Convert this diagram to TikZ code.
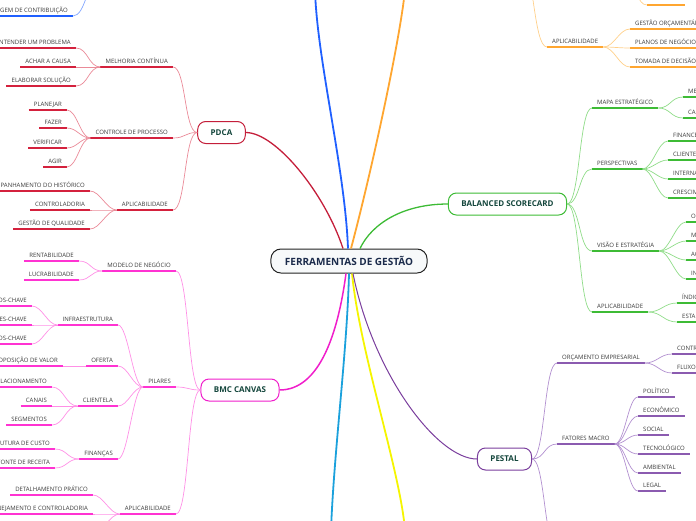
\documentclass[tikz,border=0pt]{standalone}
\usepackage{fontspec}
\setmainfont{Open Sans}
\definecolor{txt}{HTML}{3A3A3A}
\definecolor{nodetxt}{HTML}{14463C}
\definecolor{ctrT}{HTML}{1B2B4B}
\definecolor{ctrB}{HTML}{222222}
\definecolor{ctrF}{HTML}{F7F9FA}
\definecolor{pdcaB}{HTML}{C41E3A}
\definecolor{pdcaU}{HTML}{D4213D}
\definecolor{pdcaL}{HTML}{EA8A98}
\definecolor{bmcB}{HTML}{F01ECB}
\definecolor{bmcU}{HTML}{FF33D2}
\definecolor{bmcL}{HTML}{FF90E6}
\definecolor{bscB}{HTML}{3DBB35}
\definecolor{bscL}{HTML}{8FDC88}
\definecolor{pesB}{HTML}{7A3E9D}
\definecolor{pesU}{HTML}{8B5BB0}
\definecolor{pesL}{HTML}{B290D0}
\definecolor{orgU}{HTML}{FFA630}
\definecolor{orgL}{HTML}{FFD08A}
\definecolor{bluT}{HTML}{2060FF}
\definecolor{cyaT}{HTML}{1BA1DC}
\definecolor{yelT}{HTML}{F5F500}
\newcommand{\topicfont}{\fontsize{6}{7}\selectfont}
\begin{document}
\begin{tikzpicture}[x=1pt,y=-1pt,
    topic/.style={font=\topicfont, text=txt, inner xsep=5pt, inner ysep=2.4pt,
      text height=4.4pt, text depth=1.3pt,
      append after command={(\tikzlastnode.south west) edge[draw=#1, line width=1.8pt] (\tikzlastnode.south east)}},
    topicL/.style={topic=#1, anchor=south east},
    topicR/.style={topic=#1, anchor=south west},
    main/.style={draw=#1, line width=1pt, rounded corners=8pt, fill=white, text=nodetxt,
      font=\bfseries\fontsize{8}{9}\selectfont, inner xsep=13pt, minimum height=22pt},
    link/.style={draw=#1, line width=0.7pt},
    trunk/.style={draw=#1, line width=1.3pt},
    ul/.style={draw=#1, line width=1.8pt}]
    \useasboundingbox (0,0) rectangle (696,520);
    \clip (0,0) rectangle (696,520);

    % centre and main topics
    \node[draw=ctrB, fill=ctrF, line width=1pt, rounded corners=10pt, text=ctrT,
      font=\bfseries\fontsize{10}{12}\selectfont, inner xsep=14pt, minimum height=24pt]
      (fg) at (349,261) {FERRAMENTAS DE GESTÃO};
    \node[main=pdcaB] (pdca) at (221.5,132.5) {PDCA};
    \node[main=bmcB] (bmc) at (240,390) {BMC CANVAS};
    \node[main=bscB] (bsc) at (507.5,204) {BALANCED SCORECARD};
    \node[main=pesB] (pes) at (504.5,459) {PESTAL};

    % topics lying outside the page
    \coordinate (blum) at (315,-10);
    \coordinate (orgt) at (405,-10);
    \coordinate (cyat) at (331,530);
    \coordinate (yelt) at (405,530);
    \coordinate (orgm) at (520,-40);
    \coordinate (blup) at (100,-22);

    % trunks
    \draw[trunk=bluT, line width=1.8pt] ([xshift=-1pt]fg.north) .. controls +(-3,-80) and +(2,70) .. (blum);
    \draw[trunk=orgU, line width=1.8pt] ([xshift=2pt]fg.north) .. controls +(21,-79) and +(-5,50) .. (orgt);
    \draw[trunk=pdcaB] (pdca.east) .. controls +(30,0) and +(-18,-55) .. ([xshift=-6pt]fg.north);
    \draw[trunk=bscB] ([xshift=11pt]fg.north) .. controls +(12,-25) and +(-45,0) .. (bsc.west);
    \draw[trunk=bmcB, line width=1.5pt] ([xshift=-3pt]fg.south) .. controls +(-8,60) and +(40,0) .. (bmc.east);
    \draw[trunk=cyaT, line width=1.8pt] (fg.south) .. controls +(-2,80) and +(3,-80) .. (cyat);
    \draw[trunk=yelT, line width=1.8pt] ([xshift=3pt]fg.south) .. controls +(8,80) and +(-5,-60) .. (yelt);
    \draw[trunk=pesB, line width=1pt] ([xshift=4pt]fg.south) .. controls +(20,100) and +(-40,0) .. (pes.west);

    % PDCA
    \node[topicL=pdcaU] (melh) at (173,67) {MELHORIA CONTÍNUA};
    \node[topicL=pdcaU] (ctrl) at (173,138) {CONTROLE DE PROCESSO};
    \node[topicL=pdcaU] (apla) at (173,210) {APLICABILIDADE};
    \foreach \n in {melh,ctrl,apla}
      \draw[link=pdcaL] (pdca.west) .. controls +(-13,0) and +(13,0) .. (\n.south east);
    \foreach \n/\y/\t in {1/48/ENTENDER UM PROBLEMA, 2/67/ACHAR A CAUSA, 3/86/ELABORAR SOLUÇÃO} {
        \node[topicL=pdcaU] (melh\n) at (76,\y) {\t};
        \draw[link=pdcaL] (melh.south west) .. controls +(-12,0) and +(12,0) .. (melh\n.south east);
      }
    \foreach \n/\y/\t in {1/110/PLANEJAR, 2/128/FAZER, 3/148/VERIFICAR, 4/167/AGIR} {
        \node[topicL=pdcaU] (ctrl\n) at (67,\y) {\t};
        \draw[link=pdcaL] (ctrl.south west) .. controls +(-10,0) and +(10,0) .. (ctrl\n.south east);
      }
    \foreach \n/\y/\t in {1/191/ACOMPANHAMENTO DO HISTÓRICO, 2/210/CONTROLADORIA, 3/229/GESTÃO DE QUALIDADE} {
        \node[topicL=pdcaU] (apla\n) at (90,\y) {\t};
        \draw[link=pdcaL] (apla.south west) .. controls +(-10,0) and +(10,0) .. (apla\n.south east);
      }

    % BMC CANVAS
    \node[topicL=bmcU] (mod) at (176,271) {MODELO DE NEGÓCIO};
    \node[topicL=bmcU] (pil) at (176,387) {PILARES};
    \node[topicL=bmcU] (aplb) at (176,514) {APLICABILIDADE};
    \foreach \n in {mod,pil,aplb}
      \draw[link=bmcL] (bmc.west) .. controls +(-13,0) and +(13,0) .. (\n.south east);
    \foreach \n/\y/\t in {1/261/RENTABILIDADE, 2/280/LUCRABILIDADE} {
        \node[topicL=bmcU] (mod\n) at (79,\y) {\t};
        \draw[link=bmcL] (mod.south west) .. controls +(-12,0) and +(12,0) .. (mod\n.south east);
      }
    \foreach \n/\y/\t in {inf/325/INFRAESTRUTURA, ofe/366/OFERTA, cli/406/CLIENTELA, fin/459/FINANÇAS} {
        \node[topicL=bmcU] (\n) at (118,\y) {\t};
        \draw[link=bmcL] (pil.south west) .. controls +(-10,0) and +(10,0) .. (\n.south east);
      }
    \foreach \n/\y/\t in {1/306/RECURSOS-CHAVE, 2/325/ATIVIDADES-CHAVE, 3/344/PARCEIROS-CHAVE} {
        \node[topicL=bmcU] (inf\n) at (32,\y) {\t};
        \draw[link=bmcL] (inf.south west) .. controls +(-10,0) and +(10,0) .. (inf\n.south east);
      }
    \node[topicL=bmcU] (ofe1) at (63,366) {PROPOSIÇÃO DE VALOR};
    \draw[link=bmcL] (ofe.south west) -- (ofe1.south east);
    \foreach \n/\y/\t in {1/387/RELACIONAMENTO, 2/406/CANAIS, 3/425/SEGMENTOS} {
        \node[topicL=bmcU] (cli\n) at (52,\y) {\t};
        \draw[link=bmcL] (cli.south west) .. controls +(-12,0) and +(12,0) .. (cli\n.south east);
      }
    \foreach \n/\y/\t in {1/449/ESTRUTURA DE CUSTO, 2/468/FONTE DE RECEITA} {
        \node[topicL=bmcU] (fin\n) at (55,\y) {\t};
        \draw[link=bmcL] (fin.south west) .. controls +(-12,0) and +(12,0) .. (fin\n.south east);
      }
    \node[topicL=bmcU] (aplb1) at (93,495) {DETALHAMENTO PRÁTICO};
    \node[topicL=bmcU] (aplb2) at (93,514) {PLANEJAMENTO E CONTROLADORIA};
    \coordinate (aplb3) at (93,533);
    \foreach \n in {aplb1,aplb2,aplb3}
      \draw[link=bmcL] (aplb.south west) .. controls +(-10,0) and +(10,0) .. (\n.south east);

    % BALANCED SCORECARD
    \foreach \n/\y/\t in {map/108/MAPA ESTRATÉGICO, per/169/PERSPECTIVAS, vis/251/VISÃO E ESTRATÉGIA, aplc/312/APLICABILIDADE} {
        \node[topicR=bscB] (\n) at (592,\y) {\t};
        \draw[link=bscL] (bsc.east) .. controls +(13,0) and +(-13,0) .. (\n.south west);
      }
    \foreach \n/\y/\t in {1/97/MEDIDAS, 2/118/CAUSA E EFEITO} {
        \node[topicR=bscB] (map\n) at (683,\y) {\t};
        \draw[link=bscL] (map.south east) .. controls +(12,0) and +(-12,0) .. (map\n.south west);
      }
    \foreach \n/\y/\t in {1/141/FINANCEIRA, 2/160/CLIENTES, 3/179/INTERNA, 4/198/CRESCIMENTO} {
        \node[topicR=bscB] (per\n) at (668,\y) {\t};
        \draw[link=bscL] (per.south east) .. controls +(10,0) and +(-10,0) .. (per\n.south west);
      }
    \foreach \n/\y/\t in {1/222/OBJETIVOS, 2/241/METAS, 3/260/AÇÕES, 4/279/INICIATIVAS} {
        \node[topicR=bscB] (vis\n) at (686,\y) {\t};
        \draw[link=bscL] (vis.south east) .. controls +(10,0) and +(-10,0) .. (vis\n.south west);
      }
    \foreach \n/\y/\t in {1/303/ÍNDICES, 2/322/ESTABELECER METAS} {
        \node[topicR=bscB] (aplc\n) at (677,\y) {\t};
        \draw[link=bscL] (aplc.south east) .. controls +(13,0) and +(-13,0) .. (aplc\n.south west);
      }

    % PESTAL
    \node[topicR=pesU] (orc) at (557,363) {ORÇAMENTO EMPRESARIAL};
    \node[topicR=pesU] (fat) at (557,444) {FATORES MACRO};
    \coordinate (pes3) at (557,548);
    \foreach \n in {orc,fat,pes3}
      \draw[link=pesL] (pes.east) .. controls +(13,0) and +(-13,0) .. (\n.south west);
    \foreach \n/\y/\t in {1/354/CONTROLE DE GASTOS, 2/373/FLUXO DE CAIXA} {
        \node[topicR=pesU] (orc\n) at (672,\y) {\t};
        \draw[link=pesL] (orc.south east) .. controls +(12,0) and +(-12,0) .. (orc\n.south west);
      }
    \foreach \n/\y/\t in {1/397/POLÍTICO, 2/416/ECONÔMICO, 3/435/SOCIAL, 4/454/TECNOLÓGICO, 5/473/AMBIENTAL, 6/491/LEGAL} {
        \node[topicR=pesU] (fat\n) at (638,\y) {\t};
        \draw[link=pesL] (fat.south east) .. controls +(10,0) and +(-10,0) .. (fat\n.south west);
      }

    % orange and blue remnants at the top
    \node[topicR=orgU] (apld) at (547,47) {APLICABILIDADE};
    \draw[link=orgL] (orgm) .. controls +(14,0) and +(-14,0) .. (apld.south west);
    \foreach \n/\y/\t in {1/29/GESTÃO ORÇAMENTÁRIA, 2/48/PLANOS DE NEGÓCIOS, 3/67/TOMADA DE DECISÃO} {
        \node[topicR=orgU] (apld\n) at (630,\y) {\t};
        \draw[link=orgL] (apld.south east) .. controls +(11,0) and +(-11,0) .. (apld\n.south west);
      }
    \coordinate (orgs) at (628,-14);
    \coordinate (orgu1) at (647,5);
    \coordinate (orgu2) at (685,5);
    \draw[link=orgL] (orgs) .. controls +(10,0) and +(-10,0) .. (orgu1);
    \draw[ul=orgU] (orgu1) -- (orgu2);
    \node[topicL=bluT] (marg) at (73,16) {MARGEM DE CONTRIBUIÇÃO};
    \draw[link=bluT!55] (blup) .. controls +(-13,0) and +(13,0) .. (marg.south east);
\end{tikzpicture}
\end{document}
